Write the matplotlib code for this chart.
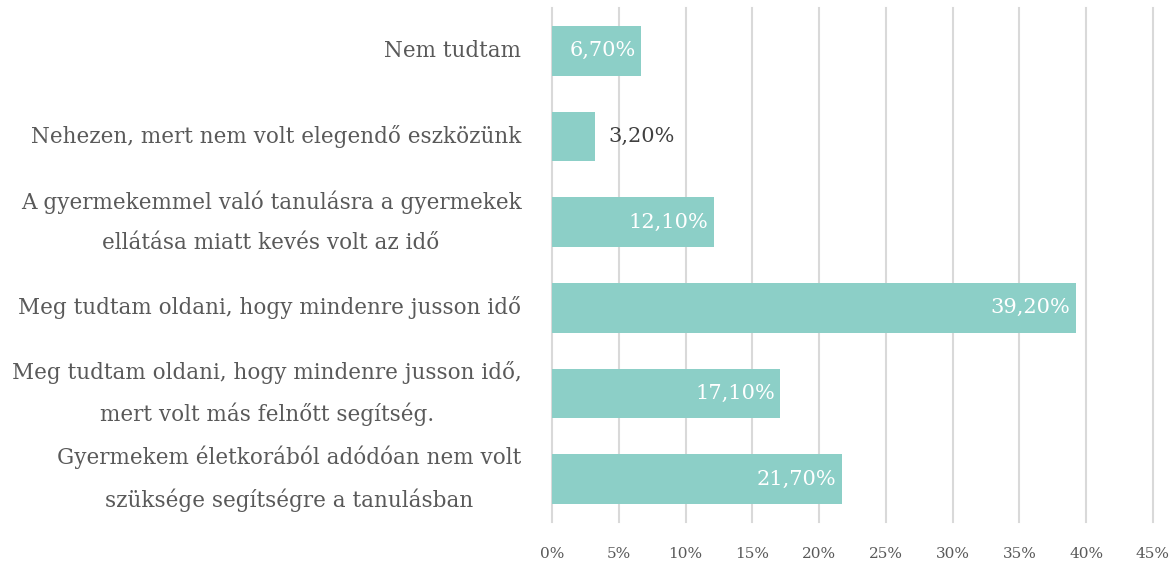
import matplotlib.pyplot as plt

categories = [
    "Nem tudtam",
    "Nehezen, mert nem volt elegendő eszközünk",
    "A gyermekemmel való tanulásra a gyermekek\nellátása miatt kevés volt az idő",
    "Meg tudtam oldani, hogy mindenre jusson idő",
    "Meg tudtam oldani, hogy mindenre jusson idő,\nmert volt más felnőtt segítség.",
    "Gyermekem életkorából adódóan nem volt\nszüksége segítségre a tanulásban",
]
values = [6.7, 3.2, 12.1, 39.2, 17.1, 21.7]
xticks = [0, 5, 10, 15, 20, 25, 30, 35, 40, 45]

bar_color = "#8ccfc7"
text_color = "#595959"

plt.rcParams["font.family"] = ["DejaVu Serif"]

fig = plt.figure(figsize=(11.73, 5.62), dpi=100)
ax = fig.add_axes([552 / 1173, 1 - 522 / 562, (1153 - 552) / 1173, (522 - 8) / 562])

ypos = list(range(len(categories)))
ax.barh(ypos, values, height=0.58, color=bar_color, zorder=2)

# 数据标签
for y, v in zip(ypos, values):
    lab = f"{v:.2f}".replace(".", ",") + "%"
    if v > 5:
        ax.text(v - 0.4, y, lab, ha="right", va="center", color="white", fontsize=15)
    else:
        ax.text(v + 1.0, y, lab, ha="left", va="center", color="#404040", fontsize=15)

ax.set_xlim(0, 45)
ax.set_ylim(len(categories) - 0.5, -0.5)
ax.set_xticks(xticks)
ax.set_xticklabels([f"{t}%" for t in xticks], fontsize=11, color=text_color)
ax.set_yticks(ypos)
ax.set_yticklabels(categories, fontsize=15.5, color=text_color, linespacing=2.05)
for lbl in ax.get_yticklabels():
    lbl.set_multialignment("center")
    lbl.set_verticalalignment("center")
ax.tick_params(axis="x", length=0, pad=18)
ax.tick_params(axis="y", length=0, pad=22)

ax.grid(axis="x", color="#d9d9d9", linewidth=1.5, zorder=0)
for gl in ax.get_xgridlines():
    gl.set_clip_on(False)
for s in ax.spines.values():
    s.set_visible(False)

fig.savefig("out.png", dpi=100)
